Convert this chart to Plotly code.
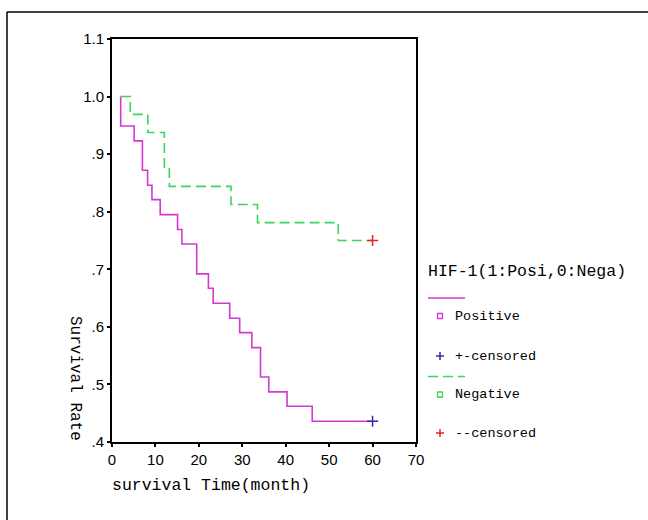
import plotly.graph_objects as go

# Kaplan-Meier step data
pos_time = [2, 2, 5.1, 7.0, 8.2, 9.2, 11.1, 15.1, 16.1, 19.5, 22.2, 23.3, 27.1, 29.4, 32.2, 34.2, 36.1, 40.3, 46.1, 60]
pos_surv = [1.0, 0.949, 0.923, 0.872, 0.846, 0.821, 0.795, 0.769, 0.744, 0.692, 0.667, 0.641, 0.615, 0.590, 0.564, 0.513, 0.487, 0.462, 0.436, 0.436]
neg_time = [2, 4.2, 8.25, 12.05, 13.2, 27.4, 33.5, 52.1, 60]
neg_surv = [1.0, 0.969, 0.9375, 0.875, 0.844, 0.8125, 0.781, 0.75, 0.75]
pos_cens_time = [60]
pos_cens_surv = [0.436]
neg_cens_time = [60]
neg_cens_surv = [0.75]

x_ticks = [0, 10, 20, 30, 40, 50, 60, 70]
y_ticks = [0.4, 0.5, 0.6, 0.7, 0.8, 0.9, 1.0, 1.1]
y_tick_text = [".4", ".5", ".6", ".7", ".8", ".9", "1.0", "1.1"]

legend_title = "HIF-1(1:Posi,0:Nega)"
legend_labels = ["Positive", "+-censored", "Negative", "--censored"]

MAG = "#D238D2"
GRN = "#3FD45A"
BLU = "#2E2EA8"
RED = "#E02424"
MONO = "Liberation Mono"

fig = go.Figure()
fig.add_trace(go.Scatter(x=pos_time, y=pos_surv, mode="lines", line=dict(color=MAG, width=1.6, shape="hv"), showlegend=False))
fig.add_trace(go.Scatter(x=neg_time, y=neg_surv, mode="lines", line=dict(color=GRN, width=1.6, shape="hv", dash="10px,5px"), showlegend=False))
fig.add_trace(go.Scatter(x=pos_cens_time, y=pos_cens_surv, mode="markers",
                         marker=dict(symbol="cross-thin", size=8, line=dict(color=BLU, width=1.5)), showlegend=False))
fig.add_trace(go.Scatter(x=neg_cens_time, y=neg_cens_surv, mode="markers",
                         marker=dict(symbol="cross-thin", size=8, line=dict(color=RED, width=1.5)), showlegend=False))

L, R, T, B = 112, 232, 39, 78
W, H = 648, 520
pw, ph = W - L - R, H - T - B

def px(xp):
    return (xp - L) / pw

def py(yp):
    return (H - B - yp) / ph

shapes = []
annotations = []

# outer frame (only the left and top edges are inside the picture)
shapes.append(dict(type="line", xref="paper", yref="paper", x0=px(7), x1=px(W), y0=py(12), y1=py(12),
                   line=dict(color="black", width=1.5)))
shapes.append(dict(type="line", xref="paper", yref="paper", x0=px(7), x1=px(7), y0=py(12), y1=py(H),
                   line=dict(color="black", width=1.5)))

# axis titles
annotations.append(dict(text="survival Time(month)", xref="paper", yref="paper", x=px(110), y=py(486),
                        xanchor="left", yanchor="middle", showarrow=False, font=dict(family=MONO, size=16.5, color="black")))
annotations.append(dict(text="Survival Rate", xref="paper", yref="paper", x=px(75), y=py(378),
                        xanchor="center", yanchor="middle", textangle=90, showarrow=False,
                        font=dict(family=MONO, size=16, color="black")))

# custom legend
annotations.append(dict(text=legend_title, xref="paper", yref="paper", x=px(426), y=py(271),
                        xanchor="left", yanchor="middle", showarrow=False, font=dict(family=MONO, size=16.5, color="black")))
shapes.append(dict(type="line", xref="paper", yref="paper", x0=px(428), x1=px(465), y0=py(298), y1=py(298),
                   line=dict(color=MAG, width=1.6)))
shapes.append(dict(type="line", xref="paper", yref="paper", x0=px(428), x1=px(465), y0=py(376.5), y1=py(376.5),
                   line=dict(color=GRN, width=1.6, dash="10px,5px")))
for yc, col in [(316, MAG), (394.5, GRN)]:
    shapes.append(dict(type="rect", xref="paper", yref="paper", x0=px(437.5), x1=px(442.5), y0=py(yc + 2.5), y1=py(yc - 2.5),
                       line=dict(color=col, width=1.3), fillcolor="rgba(0,0,0,0)"))
for yc, col in [(356, BLU), (433, RED)]:
    shapes.append(dict(type="line", xref="paper", yref="paper", x0=px(436), x1=px(444), y0=py(yc), y1=py(yc),
                       line=dict(color=col, width=1.5)))
    shapes.append(dict(type="line", xref="paper", yref="paper", x0=px(440), x1=px(440), y0=py(yc - 4), y1=py(yc + 4),
                       line=dict(color=col, width=1.5)))
for lab, yc in zip(legend_labels, [316, 356, 394.5, 433]):
    annotations.append(dict(text=lab, xref="paper", yref="paper", x=px(453), y=py(yc),
                            xanchor="left", yanchor="middle", showarrow=False,
                            font=dict(family=MONO, size=13.5, color="black")))

fig.update_layout(
    width=W, height=H,
    margin=dict(l=L, r=R, t=T, b=B, pad=0),
    paper_bgcolor="white", plot_bgcolor="white",
    shapes=shapes, annotations=annotations,
    showlegend=False,
)
fig.update_xaxes(range=[0, 70], tickvals=x_ticks, ticks="outside", ticklen=3, tickwidth=2, tickcolor="black",
                 showline=True, linecolor="black", linewidth=2, mirror=True, showgrid=False, zeroline=False,
                 tickfont=dict(family="Liberation Sans", size=15, color="black"))
fig.update_yaxes(range=[0.4, 1.1], tickvals=y_ticks, ticktext=y_tick_text, ticks="outside", ticklen=3, tickwidth=2,
                 tickcolor="black", showline=True, linecolor="black", linewidth=2, mirror=True, showgrid=False,
                 zeroline=False, tickfont=dict(family="Liberation Sans", size=15, color="black"))

fig.write_html("out.html", config={"displayModeBar": False},
               post_script="document.body.style.margin='0';document.body.style.overflow='hidden';")
